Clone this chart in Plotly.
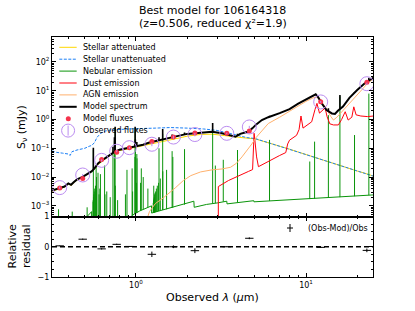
import plotly.graph_objects as go

# ---------------- data ----------------
# Model spectrum continuum (um, mJy)
model_wl = [0.32, 0.35, 0.38, 0.40, 0.415, 0.43, 0.45, 0.486, 0.52, 0.548, 0.57, 0.60, 0.628, 0.68,
            0.74, 0.80, 0.90, 1.00, 1.10, 1.20, 1.40, 1.60, 1.80, 2.00, 2.40, 2.80, 3.20, 3.60, 3.85,
            4.10, 4.40, 4.60, 4.85, 5.10, 5.50, 6.00, 7.00, 8.00, 9.00, 10.0, 11.0, 11.4, 11.8, 12.3,
            13.2, 14.2, 14.8, 15.4, 16.5, 17.0, 18.0, 20.0, 22.0, 25.0]
model_fx = [0.00339, 0.00398, 0.00468, 0.00603, 0.00537, 0.0066, 0.0083, 0.0102, 0.0135, 0.0158, 0.0200,
            0.0302, 0.0372, 0.0525, 0.0724, 0.0891, 0.102, 0.117, 0.132, 0.158, 0.191, 0.234, 0.275,
            0.316, 0.355, 0.372, 0.331, 0.282, 0.251, 0.316, 0.347, 0.380, 0.501, 0.676, 0.955, 1.20,
            1.66, 2.29, 3.55, 5.01, 6.76, 7.50, 5.89, 3.80, 2.14, 1.62, 1.55, 2.00, 2.82, 3.55, 5.62,
            10.5, 17.4, 28.8]
# emission-line spikes visible on the model spectrum (um, base mJy, top mJy)
model_line_wl = [0.5613, 0.7321, 0.7468, 0.7541, 0.9884, 0.9915, 1.0116, 1.3658, 1.4354, 1.631, 1.930,
                 2.824, 3.954, 6.101, 13.54, 15.83, 19.29, 23.42]
model_line_base = [0.019, 0.068, 0.074, 0.076, 0.115, 0.115, 0.117, 0.18, 0.19, 0.24, 0.30, 0.37, 0.27,
                   1.22, 1.95, 2.30, 8.3, 21.4]
model_line_top = [0.105, 0.112, 0.24, 0.56, 0.56, 0.20, 0.166, 0.24, 0.47, 0.30, 0.355, 0.76, 0.32,
                  1.35, 2.45, 7.10, 8.9, 28.2]

# Stellar attenuated
stel_att_wl = [0.32, 0.35, 0.38, 0.40, 0.415, 0.43, 0.45, 0.486, 0.52, 0.548, 0.57, 0.60, 0.628, 0.68,
               0.74, 0.80, 0.90, 1.00, 1.10, 1.20, 1.40, 1.60, 1.80, 2.00, 2.40, 2.80, 3.20, 3.60, 4.00,
               4.50, 5.00, 6.00, 7.00, 8.00, 9.00, 10.0, 12.0, 14.0, 16.0, 18.0, 20.0, 22.0, 25.0]
stel_att_fx = [0.00324, 0.0038, 0.00447, 0.00575, 0.00513, 0.0063, 0.00794, 0.00977, 0.0129, 0.0151,
               0.0186, 0.0275, 0.0347, 0.049, 0.0676, 0.0832, 0.0955, 0.110, 0.120, 0.141, 0.170, 0.200,
               0.229, 0.263, 0.302, 0.309, 0.282, 0.251, 0.234, 0.224, 0.214, 0.158, 0.117, 0.0933,
               0.0741, 0.0603, 0.0427, 0.0316, 0.0251, 0.0200, 0.0162, 0.0138, 0.0107]

# Stellar unattenuated
stel_un_wl = [0.32, 0.34, 0.37, 0.40, 0.41, 0.42, 0.45, 0.50, 0.53, 0.55, 0.57, 0.59, 0.62, 0.66, 0.72,
              0.80, 1.00, 1.30, 1.60, 2.00, 2.50, 3.00, 3.50, 4.00, 4.50, 5.00, 6.00, 7.00, 8.00, 9.00,
              10.0, 12.0, 14.0, 16.0, 18.0, 20.0, 22.0, 25.0]
stel_un_fx = [0.0813, 0.0724, 0.0676, 0.0631, 0.0562, 0.0759, 0.0871, 0.100, 0.117, 0.126, 0.158, 0.240,
              0.331, 0.398, 0.437, 0.457, 0.479, 0.501, 0.525, 0.501, 0.468, 0.417, 0.331, 0.263, 0.234,
              0.219, 0.158, 0.117, 0.0933, 0.0741, 0.0603, 0.0427, 0.0316, 0.0251, 0.0200, 0.0162,
              0.0138, 0.0107]

# Nebular continuum
neb_wl = [0.50, 0.52, 0.548, 0.5485, 0.89, 0.95, 1.05, 1.234, 1.236, 1.5, 1.8, 2.19, 2.20, 2.6, 3.0,
          3.42, 3.43, 4.0, 4.93, 4.94, 6.0, 8.0, 10.0, 12.0, 15.0, 20.0, 25.0]
neb_fx = [0.0002, 0.000447, 0.000631, 0.0002, 0.0002, 0.000468, 0.000661, 0.0010, 0.000562, 0.000759,
          0.00105, 0.00145, 0.000891, 0.00112, 0.00126, 0.00145, 0.00117, 0.00132, 0.00151, 0.00138,
          0.00148, 0.00158, 0.0017, 0.00182, 0.0020, 0.00219, 0.0024]
# Nebular emission lines (um, peak mJy, base mJy)
neb_line_wl = [0.3504, 0.4217, 0.516, 0.559, 0.5605, 0.5613, 0.5623, 0.565, 0.568, 0.572, 0.5775, 0.5827,
               0.5857, 0.5979, 0.6063, 0.6128, 0.6178, 0.6536, 0.657, 0.6733, 0.7053, 0.7321, 0.7468,
               0.7541, 0.7554, 0.7796, 0.8667, 0.885, 0.9488, 0.9553, 0.9861, 0.9884, 0.9915, 1.0055,
               1.0116, 1.0137, 1.064, 1.0747, 1.103, 1.1748, 1.2638, 1.267, 1.2706, 1.272, 1.2751,
               1.2804, 1.2869, 1.2949, 1.305, 1.3178, 1.3348, 1.3577, 1.3658, 1.39, 1.4354, 1.4377,
               1.5134, 1.631, 1.647, 1.93, 2.824, 2.929, 3.261, 3.954, 6.101, 10.52, 11.23, 13.54,
               15.83, 19.29, 23.42]
neb_line_peak = [0.00076, 0.00063, 0.00089, 0.0014, 0.0016, 0.0891, 0.0020, 0.00251, 0.00316, 0.00398,
                 0.00501, 0.0224, 0.0100, 0.0141, 0.00251, 0.00398, 0.0126, 0.0251, 0.00251, 0.00316,
                 0.0020, 0.0794, 0.178, 0.525, 0.00501, 0.00158, 0.00251, 0.0178, 0.0200, 0.00316,
                 0.0501, 0.501, 0.141, 0.00631, 0.0631, 0.0447, 0.00631, 0.0200, 0.0100, 0.00398,
                 0.00126, 0.00141, 0.00158, 0.00501, 0.00178, 0.0020, 0.00251, 0.00282, 0.00316,
                 0.00398, 0.00501, 0.00631, 0.100, 0.0089, 0.316, 0.0158, 0.0178, 0.0794, 0.0501,
                 0.0933, 0.447, 0.0251, 0.0398, 0.0871, 0.195, 0.0347, 0.170, 1.41, 6.31, 0.288, 7.94]
neb_line_base = [1e-4] * 28 + [0.00045, 0.00047, 0.00052, 0.00052, 0.00053, 0.00057, 0.00058, 0.00059,
                               0.00068, 0.0007, 0.00075, 0.00088, 0.00058, 0.00058, 0.00058, 0.00058,
                               0.00059, 0.00059, 0.0006, 0.0006, 0.00061, 0.00062, 0.00064, 0.00066,
                               0.00067, 0.00069, 0.00072, 0.00072, 0.00076, 0.00086, 0.00087, 0.0011,
                               0.00123, 0.00124, 0.0014, 0.0013, 0.00148, 0.00172, 0.00177, 0.0019,
                               0.0020, 0.00216, 0.00235]

# Dust emission
dust_wl = [3.049, 3.05, 3.5, 4.0, 4.6, 4.85, 4.95, 5.0, 5.12, 5.25, 5.6, 6.0, 6.5, 7.0, 7.6, 7.8, 8.0,
           8.4, 8.8, 9.1, 9.34, 9.6, 10.2, 10.8, 11.3, 11.6, 12.0, 12.5, 12.95, 13.3, 13.8, 14.5, 15.5,
           16.2, 17.0, 17.7, 18.6, 19.1, 19.7, 21.0, 23.0, 25.0]
dust_fx = [1e-5, 0.00468, 0.00759, 0.0112, 0.0158, 0.0182, 0.331, 0.200, 0.0501, 0.0229, 0.0282, 0.0355,
           0.0447, 0.0562, 0.0708, 0.141, 0.191, 0.240, 0.282, 0.447, 1.32, 0.501, 0.631, 0.832, 2.24,
           3.63, 1.66, 2.14, 2.51, 1.26, 0.708, 0.646, 0.646, 1.00, 1.86, 0.955, 1.20, 2.75, 1.45, 1.32,
           1.26, 1.32]

# AGN emission
agn_wl = [1.14, 1.2, 1.3, 1.45, 1.7, 1.9, 2.1, 2.4, 2.8, 3.2, 3.6, 3.9, 4.2, 4.5, 4.8, 5.1, 5.5, 6.0,
          7.0, 8.0, 9.0, 10.0, 11.0, 11.5, 12.0, 12.5, 13.0, 14.0, 14.5, 15.2, 16.0, 17.0, 18.0, 19.5,
          21.0, 23.0, 25.0]
agn_fx = [0.000251, 0.000631, 0.0012, 0.00191, 0.00417, 0.00759, 0.0112, 0.0151, 0.0178, 0.0191, 0.0219,
          0.0302, 0.0501, 0.0832, 0.141, 0.240, 0.398, 0.724, 1.20, 1.91, 3.02, 4.27, 5.62, 6.03, 5.01,
          3.80, 2.75, 1.26, 0.955, 1.20, 1.66, 2.51, 3.55, 5.75, 10.0, 17.8, 26.3]

# Photometry
filt_wl = [0.356, 0.486, 0.628, 0.77, 0.914, 1.24, 1.66, 2.22, 3.42, 4.64, 12.2, 22.8]
obs_fx = [0.0043, 0.0118, 0.038, 0.079, 0.105, 0.138, 0.245, 0.30, 0.33, 0.55, 4.07, 17.5]
obs_err = [0.0004, 0.001, 0.003, 0.006, 0.008, 0.02, 0.03, 0.04, 0.02, 0.05, 0.3, 1.5]
mod_fx = [0.0042, 0.0089, 0.041, 0.073, 0.104, 0.172, 0.245, 0.34, 0.33, 0.40, 4.15, 19.6]
resid = [0.03, 0.25, -0.07, 0.08, 0.01, -0.25, 0.0, -0.13, 0.0, 0.28, -0.02, -0.12]
resid_err = [0.01, 0.02, 0.02, 0.02, 0.01, 0.09, 0.045, 0.08, 0.01, 0.03, 0.02, 0.06]

legend_labels = ["Stellar attenuated", "Stellar unattenuated", "Nebular emission", "Dust emission",
                 "AGN emission", "Model spectrum", "Model fluxes", "Observed fluxes"]
y_tickvals = [1e-3, 1e-2, 1e-1, 1, 10, 100]
y_ticktext = ["10<sup>\u22123</sup>", "10<sup>\u22122</sup>", "10<sup>\u22121</sup>",
              "10<sup>0</sup>", "10<sup>1</sup>", "10<sup>2</sup>"]

# ---------------- styling / layout ----------------
FONT = "DejaVu Sans"
GOLD = "#ffd700"
BLUE = "#1a7ff5"
GREEN = "#0a940a"
RED = "#ff000d"
APRICOT = "#ffb16d"
LAV = "#bb8cf0"
DOT = "#f5334d"

W, H = 415, 311
L, R, T, B = 52, 42, 37, 34
PW, PH = W - L - R, H - T - B
SPLIT = 60.5 / PH


def px(x):
    return (x - L) / PW


def py(y):
    return (H - B - y) / PH


fig = go.Figure()


def add_line(x, y, color, width, dash=None, xa="x", ya="y"):
    fig.add_trace(go.Scatter(x=x, y=y, mode="lines",
                             line=dict(color=color, width=width, dash=dash),
                             showlegend=False, hoverinfo="skip", xaxis=xa, yaxis=ya))


add_line(stel_att_wl, stel_att_fx, GOLD, 1)
add_line(stel_un_wl, stel_un_fx, BLUE, 1, dash="3px,1.5px")

neb_lx, neb_ly = [], []
for wl, pk, bs in zip(neb_line_wl, neb_line_peak, neb_line_base):
    neb_lx += [wl, wl, None]
    neb_ly += [bs, pk, None]
add_line(neb_wl, neb_fx, GREEN, 1)
add_line(neb_lx, neb_ly, GREEN, 1)
add_line(dust_wl, dust_fx, RED, 1)
add_line(agn_wl, agn_fx, APRICOT, 1)

add_line(model_wl, model_fx, "black", 2)
mlx, mly = [], []
for wl, bs, tp in zip(model_line_wl, model_line_base, model_line_top):
    mlx += [wl, wl, None]
    mly += [bs, tp, None]
add_line(mlx, mly, "black", 1.6)

fig.add_trace(go.Scatter(x=filt_wl, y=mod_fx, mode="markers",
                         marker=dict(color=DOT, size=5, line=dict(width=0)),
                         showlegend=False, hoverinfo="skip"))
fig.add_trace(go.Scatter(x=filt_wl, y=obs_fx, mode="markers",
                         marker=dict(symbol="circle-open", size=14, color=LAV, line=dict(width=1, color=LAV)),
                         error_y=dict(type="data", array=obs_err, color=LAV, thickness=1, width=0),
                         showlegend=False, hoverinfo="skip"))

# residuals
fig.add_trace(go.Scatter(x=filt_wl, y=resid, mode="markers", xaxis="x2", yaxis="y2",
                         marker=dict(symbol="line-ew", size=6, color="black",
                                     line=dict(width=1, color="black")),
                         error_y=dict(type="data", array=resid_err, color="black", thickness=1, width=0),
                         showlegend=False, hoverinfo="skip"))

XR = [-0.494, 1.394]
YR = [-3.37, 2.865]
xminor = [0.4, 0.5, 0.6, 0.7, 0.8, 0.9, 2, 3, 4, 5, 6, 7, 8, 9, 20]
yminor = [m * 10.0 ** k for k in range(-4, 3) for m in range(2, 10)]
tickfont = dict(family=FONT, size=8, color="black")

common_x = dict(type="log", range=XR, showgrid=False, zeroline=False, showline=True,
                linecolor="black", linewidth=1, mirror="allticks", ticks="inside", ticklen=4,
                tickcolor="black", tickwidth=1, tickvals=[1, 10],
                minor=dict(tickvals=xminor, ticks="inside", ticklen=2, tickcolor="black", showgrid=False),
                tickfont=tickfont)

fig.update_layout(
    width=W, height=H, autosize=False,
    margin=dict(l=L, r=R, t=T, b=B, pad=0),
    paper_bgcolor="white", plot_bgcolor="white",
    showlegend=False,
    font=dict(family=FONT, size=8, color="black"),
    xaxis=dict(common_x, anchor="y", domain=[0, 1], showticklabels=False),
    xaxis2=dict(common_x, anchor="y2", domain=[0, 1], showticklabels=True,
                ticktext=["10<sup>0</sup>", "10<sup>1</sup>"]),
    yaxis=dict(type="log", range=YR, domain=[SPLIT, 1], anchor="x", showgrid=False, zeroline=False,
               showline=True, linecolor="black", linewidth=1, mirror="allticks", ticks="inside",
               ticklen=4, tickcolor="black", tickvals=y_tickvals, ticktext=y_ticktext,
               minor=dict(tickvals=yminor, ticks="inside", ticklen=2, tickcolor="black", showgrid=False),
               tickfont=tickfont),
    yaxis2=dict(range=[-1, 1], domain=[0, SPLIT], anchor="x2", showgrid=False, zeroline=False,
                showline=True, linecolor="black", linewidth=1, mirror="allticks", ticks="inside",
                ticklen=4, tickcolor="black", tickvals=[-1, 0, 1], ticktext=["\u22121", "0", "1"],
                minor=dict(dtick=0.25, ticks="inside", ticklen=2, tickcolor="black", showgrid=False),
                tickfont=tickfont),
)

shapes = []
annots = []
# zero line in residual panel
shapes.append(dict(type="line", xref="x2 domain", yref="y2", x0=0, x1=1, y0=0, y1=0,
                   line=dict(color="black", width=1.5, dash="5px,3px")))

# manual legend
row_y = [47.3 + 11.9 * i for i in range(8)]
sample_styles = [(GOLD, 1, None), (BLUE, 1, "3px,1.5px"), (GREEN, 1, None), (RED, 1, None),
                 (APRICOT, 1, None), ("black", 2, None)]
for (c, w, d), yy in zip(sample_styles, row_y[:6]):
    shapes.append(dict(type="line", xref="paper", yref="paper", x0=px(59.3), x1=px(76.7),
                       y0=py(yy), y1=py(yy), line=dict(color=c, width=w, dash=d)))
# model flux dot
yy = row_y[6]
shapes.append(dict(type="circle", xref="paper", yref="paper", x0=px(65.8), x1=px(70.8),
                   y0=py(yy + 2.5), y1=py(yy - 2.5), fillcolor=DOT, line=dict(width=0)))
# observed flux circle with error bar
yy = row_y[7]
shapes.append(dict(type="circle", xref="paper", yref="paper", x0=px(61.6), x1=px(74.6),
                   y0=py(yy + 6.5), y1=py(yy - 6.5), line=dict(color=LAV, width=1)))
shapes.append(dict(type="line", xref="paper", yref="paper", x0=px(68.1), x1=px(68.1),
                   y0=py(yy + 5), y1=py(yy - 5), line=dict(color=LAV, width=1)))
for lab, yy in zip(legend_labels, row_y):
    annots.append(dict(text=lab, x=px(81.0), y=py(yy), xref="paper", yref="paper", xanchor="left",
                       yanchor="middle", showarrow=False, font=dict(family=FONT, size=8, color="black")))

# residual legend
shapes.append(dict(type="line", xref="paper", yref="paper", x0=px(287), x1=px(293), y0=py(228),
                   y1=py(228), line=dict(color="black", width=1)))
shapes.append(dict(type="line", xref="paper", yref="paper", x0=px(290), x1=px(290), y0=py(224),
                   y1=py(232), line=dict(color="black", width=1)))
annots.append(dict(text="(Obs-Mod)/Obs", x=px(305.5), y=py(228), xref="paper", yref="paper",
                   xanchor="left", yanchor="middle", showarrow=False,
                   font=dict(family=FONT, size=8, color="black")))

# titles and axis labels
annots.append(dict(text="Best model for 106164318", x=207.5 / W, xref="paper", y=py(10.7), yref="paper",
                   xanchor="center", yanchor="middle", showarrow=False,
                   font=dict(family=FONT, size=11, color="black")))
annots.append(dict(text="(z=0.506, reduced \u03c7\u00b2=1.9)", x=207.5 / W, xref="paper", y=py(23.5),
                   yref="paper", xanchor="center", yanchor="middle", showarrow=False,
                   font=dict(family=FONT, size=11, color="black")))
annots.append(dict(text="Observed <i>\u03bb</i> (<i>\u03bc</i>m)", x=px(212.5), y=py(297.5), xref="paper",
                   yref="paper", xanchor="center", yanchor="middle", showarrow=False,
                   font=dict(family=FONT, size=11, color="black")))
annots.append(dict(text="S<sub>\u03bd</sub> (mJy)", x=px(22), y=py(127), xref="paper", yref="paper",
                   xanchor="center", yanchor="middle", textangle=-90, showarrow=False,
                   font=dict(family=FONT, size=11, color="black")))
annots.append(dict(text="Relative<br>residual", x=px(19), y=py(246.5), xref="paper", yref="paper",
                   xanchor="center", yanchor="middle", textangle=-90, showarrow=False,
                   font=dict(family=FONT, size=11, color="black")))

fig.update_layout(shapes=shapes, annotations=annots)
fig.write_html("out.html", config={"displayModeBar": False},
               post_script="document.body.style.margin='0px';document.body.style.padding='0px';")
